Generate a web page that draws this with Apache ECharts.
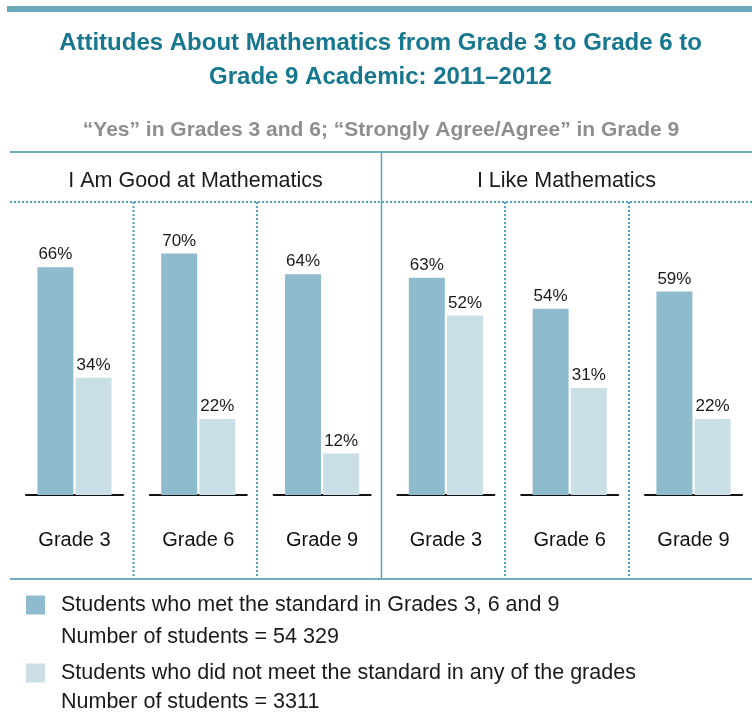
<!DOCTYPE html>
<html>
<head>
<meta charset="utf-8">
<script src="https://cdn.jsdelivr.net/npm/echarts@6/dist/echarts.min.js"></script>
<style>
html,body{margin:0;padding:0;background:#fff;}
#chart{width:752px;height:726px;}
</style>
</head>
<body>
<div id="chart"></div>
<script>
// ---- data ----
const titleLines = ['Attitudes About Mathematics from Grade 3 to Grade 6 to', 'Grade 9 Academic: 2011\u20132012'];
const subtitle = '\u201cYes\u201d in Grades 3 and 6; \u201cStrongly Agree/Agree\u201d in Grade 9';
const panels = ['I Am Good at Mathematics', 'I Like Mathematics'];
const grades = ['Grade 3', 'Grade 6', 'Grade 9'];
const metStandard = [66, 70, 64, 63, 54, 59];
const notMetStandard = [34, 22, 12, 52, 31, 22];
const legendNames = ['Students who met the standard in Grades 3, 6 and 9', 'Students who did not meet the standard in any of the grades'];
const studentCounts = ['54 329', '3311'];

// ---- style ----
const DARK = '#8fbccd';
const LIGHT = '#c9dfe5';
const TEAL = '#17778f';
const LINE = '#3f92a8';
const DOT = '#4ea2bd';
const FONT = 'Liberation Sans, Arial, Helvetica, sans-serif';

const chart = echarts.init(document.getElementById('chart'), null, {renderer: 'canvas'});

const cellStep = 123.8;
const grids = [], xAxes = [], yAxes = [], series = [];
for (let i = 0; i < 6; i++) {
  grids.push({left: 26 + i * cellStep, width: 97, top: 150, height: 345});
  xAxes.push({
    type: 'category', gridIndex: i, data: [grades[i % 3]],
    axisLine: {lineStyle: {color: '#111', width: 2}},
    axisTick: {show: false},
    axisLabel: {fontSize: 20, color: '#111', margin: 35, fontFamily: FONT}
  });
  yAxes.push({type: 'value', gridIndex: i, min: 0, max: 100, show: false});
  [[metStandard, DARK, 0], [notMetStandard, LIGHT, 1]].forEach(([arr, col, k]) => {
    series.push({
      type: 'bar', name: legendNames[k], xAxisIndex: i, yAxisIndex: i,
      data: [arr[i]], barWidth: 36, barGap: '6%',
      itemStyle: {color: col},
      label: {show: true, position: 'top', distance: 4, formatter: '{c}%',
        fontSize: 17, color: '#1a1a1a', fontFamily: FONT},
      emphasis: {disabled: true}
    });
  });
}

const g = [];
// top band
g.push({type: 'rect', shape: {x: 7, y: 6, width: 745, height: 6}, style: {fill: '#6aa9ba'}});
// title
g.push({type: 'text', style: {x: 380.5, y: 43.5, text: titleLines[0], align: 'center', verticalAlign: 'middle',
  font: 'bold 24px ' + FONT, fill: TEAL}});
g.push({type: 'text', style: {x: 380.5, y: 77.3, text: titleLines[1], align: 'center', verticalAlign: 'middle',
  font: 'bold 24px ' + FONT, fill: TEAL}});
g.push({type: 'text', style: {x: 381, y: 130.2, text: subtitle, align: 'center', verticalAlign: 'middle',
  font: 'bold 21px ' + FONT, fill: '#8e8e8e'}});
// frame lines
g.push({type: 'line', shape: {x1: 10, y1: 152, x2: 752, y2: 152}, style: {stroke: LINE, lineWidth: 1.5}});
g.push({type: 'line', shape: {x1: 10, y1: 579, x2: 752, y2: 579}, style: {stroke: LINE, lineWidth: 1.5}});
g.push({type: 'line', shape: {x1: 381.5, y1: 152, x2: 381.5, y2: 579}, style: {stroke: '#5aa3b8', lineWidth: 1.5}});
g.push({type: 'line', shape: {x1: 10, y1: 202, x2: 752, y2: 202}, style: {stroke: DOT, lineWidth: 2, lineDash: [2, 2]}});
[133.5, 257, 505, 629].forEach(x => {
  g.push({type: 'line', shape: {x1: x, y1: 202, x2: x, y2: 579}, style: {stroke: DOT, lineWidth: 2, lineDash: [2, 2]}});
});
// panel headers
g.push({type: 'text', style: {x: 195.5, y: 181, text: panels[0], align: 'center', verticalAlign: 'middle',
  font: '21.5px ' + FONT, fill: '#1a1a1a'}});
g.push({type: 'text', style: {x: 566.5, y: 181, text: panels[1], align: 'center', verticalAlign: 'middle',
  font: '21.5px ' + FONT, fill: '#1a1a1a'}});
// legend second lines
g.push({type: 'text', style: {x: 61, y: 637.5, text: 'Number of students = ' + studentCounts[0], align: 'left', verticalAlign: 'middle',
  font: '21.5px ' + FONT, fill: '#1a1a1a'}});
g.push({type: 'text', style: {x: 61, y: 702.3, text: 'Number of students = ' + studentCounts[1], align: 'left', verticalAlign: 'middle',
  font: '21.5px ' + FONT, fill: '#1a1a1a'}});

chart.setOption({
  animation: false,
  grid: grids, xAxis: xAxes, yAxis: yAxes, series: series,
  legend: {
    data: [{name: legendNames[0], itemStyle: {color: DARK}}, {name: legendNames[1], itemStyle: {color: LIGHT}}],
    orient: 'vertical', left: 26, top: 594, padding: 0,
    itemWidth: 19, itemHeight: 19, itemGap: 46, icon: 'rect', selectedMode: false,
    textStyle: {fontSize: 21.5, color: '#1a1a1a', fontFamily: FONT, padding: [5, 0, 0, 11]}
  },
  graphic: g
});
</script>
</body>
</html>
